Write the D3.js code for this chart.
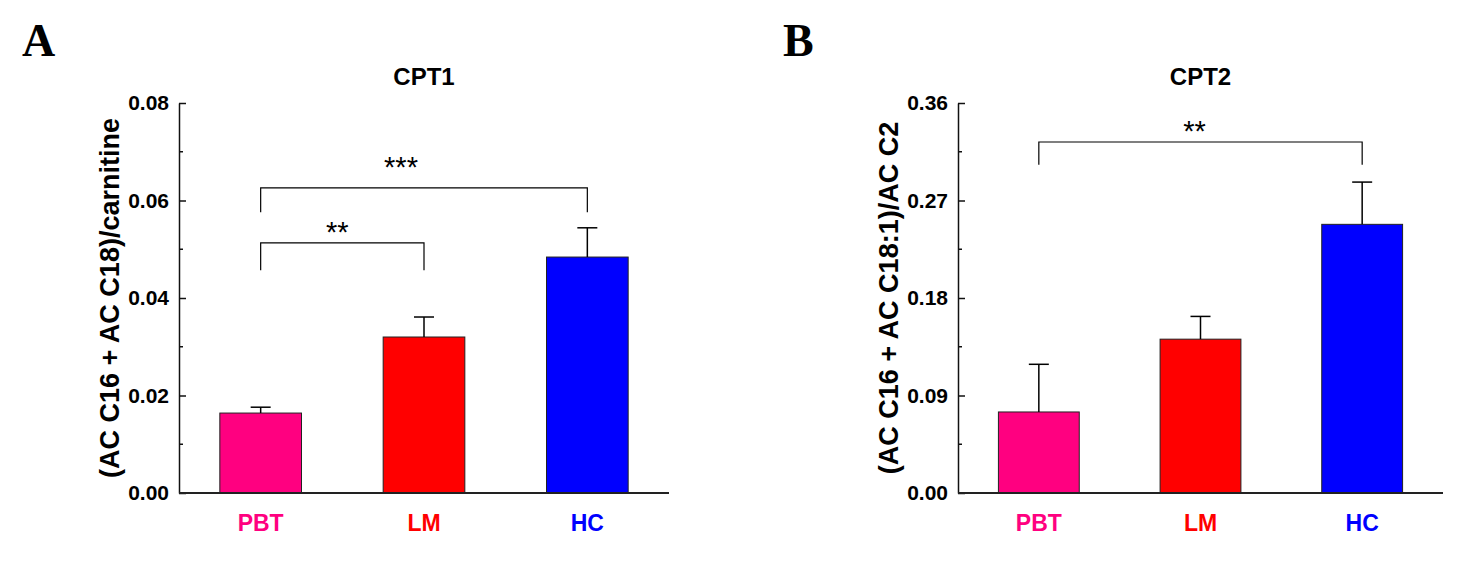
<!DOCTYPE html>
<html>
<head>
<meta charset="utf-8">
<script src="https://cdn.jsdelivr.net/npm/d3@7"></script>
<style>
  body { margin: 0; background: #fff; }
  svg { display: block; }
  text { font-family: 'Liberation Sans', Arial, sans-serif; }
</style>
</head>
<body>
<script>
// values
const groups = ['PBT', 'LM', 'HC'];
const groupColors = ['#FF0080', '#FF0000', '#0000FF'];

const cpt1Means = [0.0164, 0.0320, 0.0484];
const cpt1Errors = [0.0012, 0.0041, 0.0060];
const cpt1Ticks = [0, 0.02, 0.04, 0.06, 0.08];
const cpt1Sig = [
  { from: 'PBT', to: 'HC', level: 0.0626, foot: 0.0576, label: '***' },
  { from: 'PBT', to: 'LM', level: 0.0513, foot: 0.0457, label: '**' },
];

const cpt2Means = [0.0748, 0.142, 0.248];
const cpt2Errors = [0.044, 0.021, 0.039];
const cpt2Ticks = [0, 0.09, 0.18, 0.27, 0.36];
const cpt2Sig = [
  { from: 'PBT', to: 'HC', level: 0.324, foot: 0.303, label: '**' },
];

const width = 1464;
const height = 563;
const plotTop = 103;
const plotBottom = 493;

const svg = d3.select('body')
  .append('svg')
    .attr('width', width)
    .attr('height', height);

const panels = [
  {
    letter: 'A', letterX: 22, left: 179, right: 669,
    title: 'CPT1', yLabel: '(AC C16 + AC C18)/carnitine',
    means: cpt1Means, errors: cpt1Errors, ticks: cpt1Ticks, sig: cpt1Sig,
    labelShift: [{ dx: -23, dy: -11 }, { dx: -5, dy: -1 }],
  },
  {
    letter: 'B', letterX: 783, left: 958, right: 1443,
    title: 'CPT2', yLabel: '(AC C16 + AC C18:1)/AC C2',
    means: cpt2Means, errors: cpt2Errors, ticks: cpt2Ticks, sig: cpt2Sig,
    labelShift: [{ dx: -6, dy: -1 }],
  },
];

const drawPanel = (p) => {
  const g = svg.append('g').attr('class', 'panel');

  const x = d3.scaleBand()
    .domain(groups)
    .range([p.left, p.right])
    .paddingInner(0.5)
    .paddingOuter(0.25);

  const yMax = p.ticks[p.ticks.length - 1];
  const y = d3.scaleLinear()
    .domain([0, yMax])
    .range([plotBottom, plotTop]);

  // panel letter
  g.append('text')
    .attr('x', p.letterX)
    .attr('y', 56)
    .style('font-family', "'Liberation Serif', 'Times New Roman', serif")
    .style('font-weight', 'bold')
    .style('font-size', '46px')
    .text(p.letter);

  // title
  g.append('text')
    .attr('x', (p.left + p.right) / 2)
    .attr('y', 85)
    .attr('text-anchor', 'middle')
    .style('font-weight', 'bold')
    .style('font-size', '24px')
    .text(p.title);

  // minor ticks halfway between the major ones
  const minor = d3.range(p.ticks.length - 1)
    .map(i => (p.ticks[i] + p.ticks[i + 1]) / 2);

  const yAxis = g.append('g')
    .attr('class', 'y-axis')
    .attr('transform', `translate(${p.left},0)`)
    .call(d3.axisLeft(y)
      .tickValues(p.ticks)
      .tickSizeInner(-7)
      .tickSizeOuter(0)
      .tickPadding(10)
      .tickFormat(d3.format('.2f')));

  yAxis.select('.domain')
    .attr('stroke', '#111')
    .attr('stroke-width', 1.5);
  yAxis.selectAll('.tick line')
    .attr('stroke', '#111')
    .attr('stroke-width', 1.5);
  yAxis.selectAll('.tick text')
    .style('font-family', "'Liberation Sans', Arial, sans-serif")
    .style('font-weight', 'bold')
    .style('font-size', '21px')
    .attr('fill', '#000');

  yAxis.selectAll('.minor')
    .data(minor)
    .enter()
    .append('line')
      .attr('class', 'minor')
      .attr('x1', 0)
      .attr('x2', 4)
      .attr('y1', d => y(d))
      .attr('y2', d => y(d))
      .attr('stroke', '#111')
      .attr('stroke-width', 1.5);

  // y label
  g.append('text')
    .attr('transform', `translate(${p.left - 69},${(plotTop + plotBottom) / 2}) rotate(-90)`)
    .attr('text-anchor', 'middle')
    .attr('dy', '0.35em')
    .style('font-weight', 'bold')
    .style('font-size', '27px')
    .text(p.yLabel);

  // bars
  g.selectAll('.bar')
    .data(groups)
    .enter()
    .append('rect')
      .attr('class', 'bar')
      .attr('x', d => x(d))
      .attr('y', (d, i) => y(p.means[i]))
      .attr('width', x.bandwidth())
      .attr('height', (d, i) => y(0) - y(p.means[i]))
      .attr('fill', (d, i) => groupColors[i])
      .attr('stroke', '#222')
      .attr('stroke-width', 1);

  // error bars (upper only)
  const err = g.selectAll('.err')
    .data(groups)
    .enter()
    .append('g')
      .attr('class', 'err')
      .attr('stroke', '#000')
      .attr('stroke-width', 1.5);

  err.append('line')
    .attr('x1', d => x(d) + x.bandwidth() / 2)
    .attr('x2', d => x(d) + x.bandwidth() / 2)
    .attr('y1', (d, i) => y(p.means[i]))
    .attr('y2', (d, i) => y(p.means[i] + p.errors[i]));

  err.append('line')
    .attr('x1', d => x(d) + x.bandwidth() / 2 - 10)
    .attr('x2', d => x(d) + x.bandwidth() / 2 + 10)
    .attr('y1', (d, i) => y(p.means[i] + p.errors[i]))
    .attr('y2', (d, i) => y(p.means[i] + p.errors[i]));

  // x axis line and group labels
  g.append('line')
    .attr('x1', p.left)
    .attr('x2', p.right)
    .attr('y1', y(0))
    .attr('y2', y(0))
    .attr('stroke', '#222')
    .attr('stroke-width', 2);

  g.selectAll('.group-label')
    .data(groups)
    .enter()
    .append('text')
      .attr('class', 'group-label')
      .attr('x', d => x(d) + x.bandwidth() / 2)
      .attr('y', 531)
      .attr('text-anchor', 'middle')
      .attr('fill', (d, i) => groupColors[i])
      .style('font-weight', 'bold')
      .style('font-size', '23px')
      .text(d => d);

  // significance brackets
  p.sig.forEach((s, i) => {
    const x1 = x(s.from) + x.bandwidth() / 2;
    const x2 = x(s.to) + x.bandwidth() / 2;
    g.append('path')
      .attr('d', `M${x1},${y(s.foot)}V${y(s.level)}H${x2}V${y(s.foot)}`)
      .attr('fill', 'none')
      .attr('stroke', '#000')
      .attr('stroke-width', 1.2);
    g.append('text')
      .attr('x', (x1 + x2) / 2 + p.labelShift[i].dx)
      .attr('y', y(s.level) + p.labelShift[i].dy)
      .attr('text-anchor', 'middle')
      .style('font-size', '29px')
      .text(s.label);
  });
};

panels.forEach(drawPanel);
</script>
</body>
</html>
